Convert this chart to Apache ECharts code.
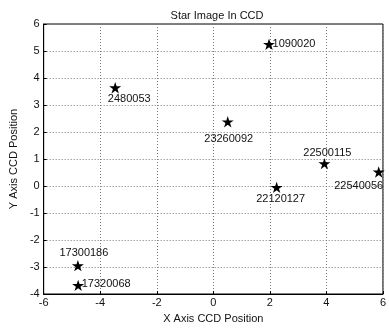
<!DOCTYPE html>
<html>
<head>
<meta charset="utf-8">
<script src="https://cdn.jsdelivr.net/npm/echarts@6/dist/echarts.min.js"></script>
<style>
  html, body { margin: 0; padding: 0; background: #fff; }
  #chart { width: 389px; height: 329px; }
</style>
</head>
<body>
<div id="chart"></div>
<script>
// Star catalogue IDs and their positions on the CCD
const starIds = ['1090020', '2480053', '23260092', '22500115', '22540056', '22120127', '17300186', '17320068'];
const xPos = [1.97, -3.47, 0.51, 3.93, 5.85, 2.24, -4.79, -4.78];
const yPos = [5.25, 3.64, 2.38, 0.83, 0.52, -0.05, -2.95, -3.68];

// Axis ranges and tick spacing
const xRange = [-6, 6];
const yRange = [-4, 6];
const xStep = 2;
const yStep = 1;

// Label placement next to each star (pixel offset of the text centre)
const labelOffsets = [[25, 0], [14, 11], [1, 17], [3, -11], [-20, 14], [4, 12], [6, -13], [28, -1]];

const font = 'Liberation Sans, Arial, sans-serif';
const textColor = '#111';

const starPath = 'path://M100,0 L122.45,69.1 L195.1,69.1 L136.3,111.8 L158.8,180.9 L100,138.2 L41.2,180.9 L63.7,111.8 L4.9,69.1 L77.55,69.1 Z';

const points = starIds.map((id, i) => ({
  name: id,
  value: [xPos[i], yPos[i]],
  label: { offset: labelOffsets[i] }
}));

const gridLine = { show: true, lineStyle: { color: '#777', type: [1, 2], width: 1 } };

const chart = echarts.init(document.getElementById('chart'), null, { renderer: 'canvas' });
chart.setOption({
  animation: false,
  backgroundColor: '#fff',
  title: {
    text: 'Star Image In CCD',
    left: 212, top: 5, textAlign: 'center',
    textStyle: { fontFamily: font, fontSize: 11, fontWeight: 'normal', color: textColor }
  },
  grid: {
    left: 37, right: 2, top: 24, bottom: 32,
    show: true, borderColor: '#000', borderWidth: 1, backgroundColor: '#fff'
  },
  xAxis: {
    type: 'value', min: xRange[0], max: xRange[1], interval: xStep,
    name: 'X Axis CCD Position', nameLocation: 'middle', nameGap: 19,
    nameTextStyle: { fontFamily: font, fontSize: 11, color: textColor },
    axisLine: { show: true, onZero: false, lineStyle: { color: '#000' } },
    axisTick: { show: true, inside: true, length: 3, lineStyle: { color: '#000' } },
    axisLabel: { fontFamily: font, fontSize: 11, color: textColor, margin: 3 },
    splitLine: gridLine
  },
  yAxis: {
    type: 'value', min: yRange[0], max: yRange[1], interval: yStep,
    name: 'Y Axis CCD Position', nameLocation: 'middle', nameGap: 17, nameRotate: 90,
    nameTextStyle: { fontFamily: font, fontSize: 11, color: textColor },
    axisLine: { show: true, onZero: false, lineStyle: { color: '#000' } },
    axisTick: { show: true, inside: true, length: 3, lineStyle: { color: '#000' } },
    axisLabel: { fontFamily: font, fontSize: 11, color: textColor, margin: 4 },
    splitLine: gridLine
  },
  series: [{
    type: 'scatter',
    data: points,
    symbol: starPath,
    symbolKeepAspect: true,
    symbolSize: [12, 12],
    itemStyle: { color: '#000', opacity: 1 },
    label: {
      show: true,
      position: 'inside',
      formatter: p => p.name,
      fontFamily: font, fontSize: 11, color: textColor
    },
    emphasis: { disabled: true }
  }]
});
</script>
</body>
</html>
